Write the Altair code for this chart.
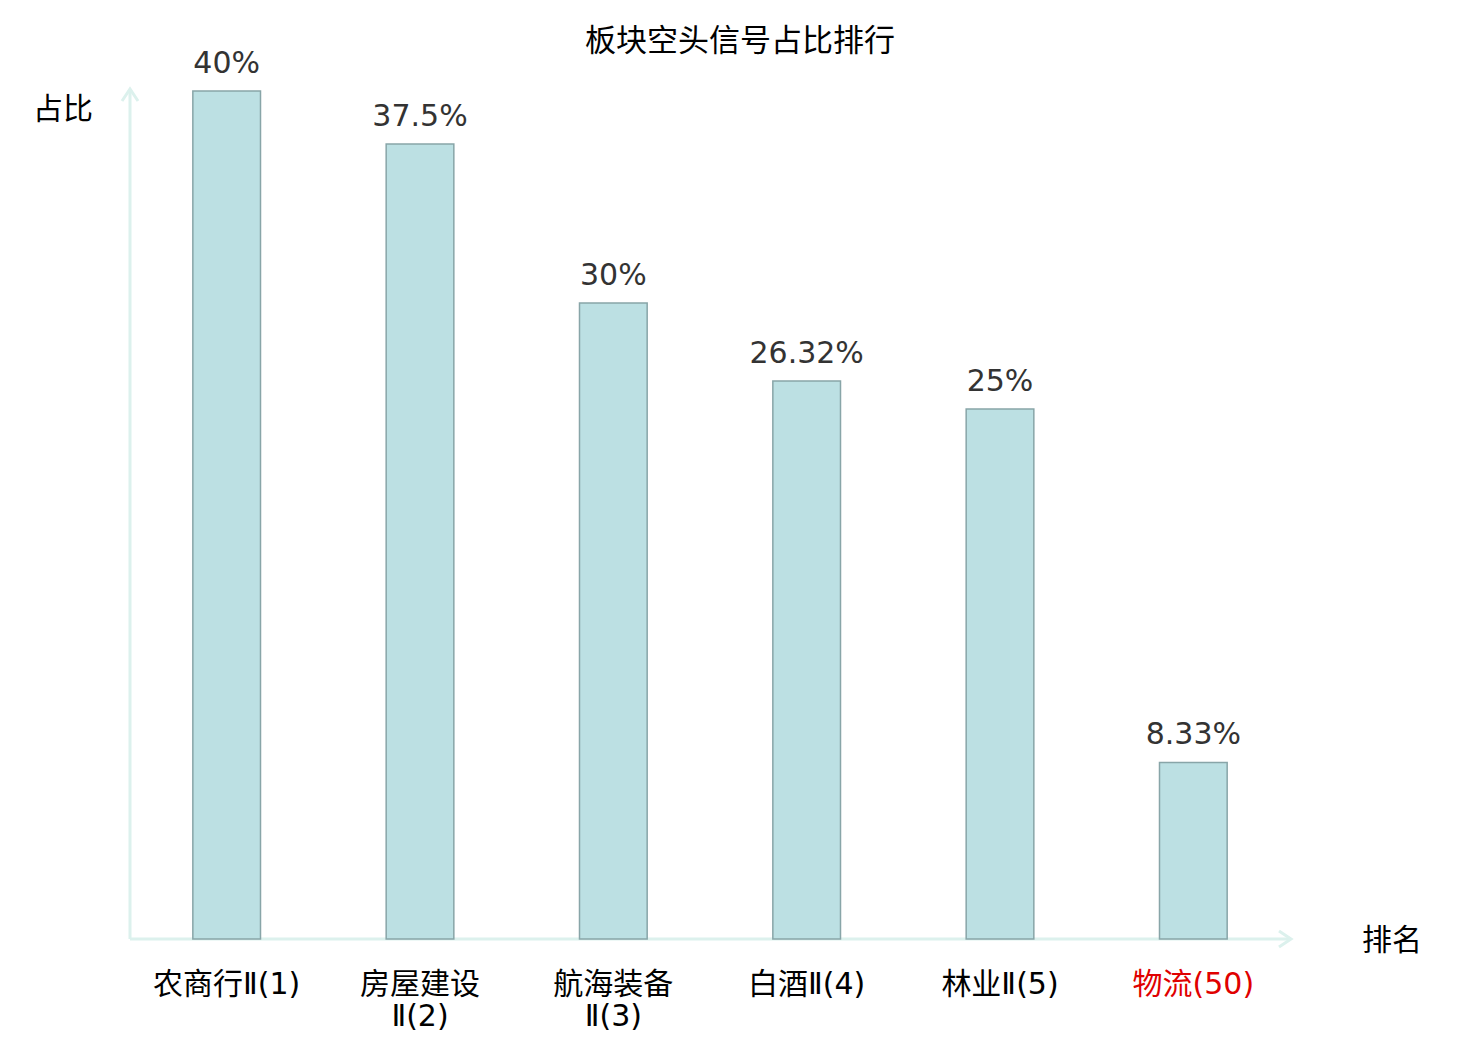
import altair as alt
import pandas as pd

categories = ["农商行Ⅱ(1)", "房屋建设\nⅡ(2)", "航海装备\nⅡ(3)", "白酒Ⅱ(4)", "林业Ⅱ(5)", "物流(50)"]
values = [40, 37.5, 30, 26.32, 25, 8.33]
value_labels = ["40%", "37.5%", "30%", "26.32%", "25%", "8.33%"]
label_colors = ["#000000", "#000000", "#000000", "#000000", "#000000", "#e00000"]
title_text = "板块空头信号占比排行"
y_title = "占比"
x_title = "排名"

df = pd.DataFrame({
    "cat": categories,
    "val": values,
    "vlabel": value_labels,
    "lcolor": label_colors,
})

W, H = 1160, 848
FONT = "DejaVu Sans, Noto Sans CJK SC"
LABEL_FONT = "DejaVu Sans, Noto Sans CJK SC"
CJK = "Noto Sans CJK SC"
AXIS_COLOR = "#dcf1ed"

xenc = alt.X("cat:N", sort=categories, axis=None,
             scale=alt.Scale(paddingInner=0.65, paddingOuter=0.325))
yscale = alt.Scale(domain=[0, 40])

base = alt.Chart(df)

bars = base.mark_bar(fill="#bce0e3", stroke="#88a5a8", strokeWidth=1.5).encode(
    x=xenc,
    y=alt.Y("val:Q", scale=yscale, axis=None),
)

vtext = base.mark_text(font=FONT, fontSize=30, color="#333333", baseline="alphabetic", dy=-18).encode(
    x=xenc,
    y=alt.Y("val:Q", scale=yscale),
    text="vlabel:N",
)

xlabels = base.mark_text(font=LABEL_FONT, fontSize=30, baseline="top", lineBreak="\n", lineHeight=32).encode(
    x=xenc,
    y=alt.value(H + 31),
    text="cat:N",
    color=alt.Color("lcolor:N", scale=None),
)

one = pd.DataFrame({"k": [0]})
ob = alt.Chart(one)

yaxis = ob.mark_rule(color=AXIS_COLOR, strokeWidth=3).encode(
    x=alt.value(0), y=alt.value(H), y2=alt.value(-2))
xaxis = ob.mark_rule(color=AXIS_COLOR, strokeWidth=3).encode(
    x=alt.value(0), x2=alt.value(W + 1), y=alt.value(H))
arrow_shape = "M -0.8 1.2 L 0 0 L 0.8 1.2"
yarrow = ob.mark_point(shape=arrow_shape, filled=False, color=AXIS_COLOR, strokeWidth=3, size=400, opacity=1).encode(
    x=alt.value(0), y=alt.value(-2))
xarrow = ob.mark_point(shape=arrow_shape, filled=False, color=AXIS_COLOR, strokeWidth=3, size=400, angle=90, opacity=1).encode(
    x=alt.value(W + 1), y=alt.value(H))

ytitle = ob.mark_text(font=CJK, fontSize=30, color="#000000", align="center", baseline="middle").encode(
    x=alt.value(-67), y=alt.value(19), text=alt.value(y_title))
xtitle = ob.mark_text(font=CJK, fontSize=30, color="#000000", align="center", baseline="middle").encode(
    x=alt.value(1262), y=alt.value(H + 2), text=alt.value(x_title))
title = ob.mark_text(font=CJK, fontSize=31, color="#000000", align="center", baseline="middle").encode(
    x=alt.value(610), y=alt.value(-49), text=alt.value(title_text))

chart = alt.layer(yaxis, xaxis, yarrow, xarrow, bars, vtext, xlabels, ytitle, xtitle, title).properties(
    width=W, height=H,
    autosize=alt.AutoSizeParams(type="none"),
    padding={"left": 122, "top": 83, "right": 182, "bottom": 93},
).configure_view(stroke=None)

chart.save("out.html", embed_options={"renderer": "svg", "actions": False})
